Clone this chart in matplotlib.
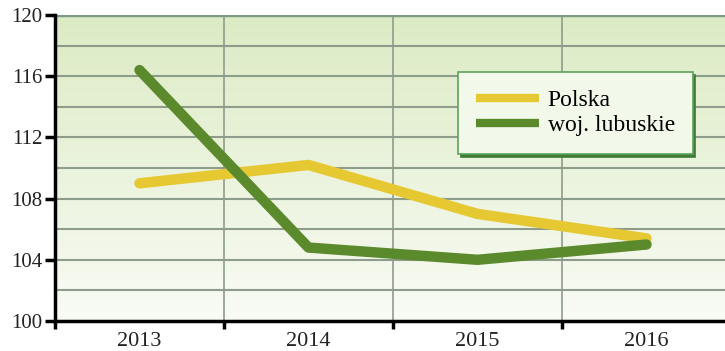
import matplotlib.pyplot as plt
import matplotlib.colors as mcolors
from matplotlib.lines import Line2D
import numpy as np

years = ["2013", "2014", "2015", "2016"]
polska = [109.0, 110.2, 107.0, 105.4]
lubuskie = [116.4, 104.8, 104.0, 105.0]

plt.rcParams['font.family'] = ['Liberation Serif', 'DejaVu Serif']

YELLOW = "#e6c832"
GREEN = "#5b8a2c"

fig = plt.figure(figsize=(7.25, 3.51), dpi=100)
# axes runs slightly past the right edge, like the original crop
ax = fig.add_axes([55 / 725, 30 / 351, 676 / 725, 306 / 351])

x = np.arange(len(years))
ax.set_xlim(-0.5, len(years) - 0.5)
ax.set_ylim(100, 120)

# background gradient, light green at top fading to white
cmap = mcolors.LinearSegmentedColormap.from_list("bg", ["#f9fbf5", "#dcebc4"])
grad = np.linspace(0, 1, 256).reshape(-1, 1)
ax.imshow(grad, cmap=cmap, origin="lower", aspect="auto",
          extent=(-0.5, len(years) - 0.5, 100, 120), zorder=0)

# grid
for yv in np.arange(102, 121, 2):
    ax.axhline(yv, color="#8e9c8c", lw=1.5, zorder=1)
for xv in np.arange(0.5, len(years) - 0.5, 1):
    ax.axvline(xv, color="#8e9c8c", lw=1.2, zorder=1)
ax.axhline(120, color="#7f9a84", lw=2.5, zorder=1)

ax.plot(x, polska, color=YELLOW, lw=7.5, solid_capstyle="round",
        solid_joinstyle="round", zorder=3)
ax.plot(x, lubuskie, color=GREEN, lw=7.5, solid_capstyle="round",
        solid_joinstyle="round", zorder=4)

ax.set_yticks(np.arange(100, 121, 4))
ax.set_xticks(x)
ax.set_xticklabels(years)
ax.set_xticks(np.arange(-0.5, len(years), 1), minor=True)
ax.tick_params(axis="x", which="major", length=0, labelsize=16, pad=8,
               labelcolor="#222222")
ax.tick_params(axis="x", which="minor", length=6, width=2.5, direction="out")
ax.tick_params(axis="y", length=7, width=2.5, labelsize=15, pad=2,
               labelcolor="#222222")

for s in ["top", "right"]:
    ax.spines[s].set_visible(False)
for s in ["left", "bottom"]:
    ax.spines[s].set_linewidth(2.5)
    ax.spines[s].set_zorder(5)

handles = [Line2D([], [], color=YELLOW, lw=6, solid_capstyle="butt"),
           Line2D([], [], color=GREEN, lw=6, solid_capstyle="butt")]
leg = ax.legend(handles, ["Polska", "woj. lubuskie"],
                loc="upper left", bbox_to_anchor=(0.596, 0.814), fontsize=17,
                frameon=True, fancybox=False, handlelength=2.7, handletextpad=0.35,
                borderpad=0.75, labelspacing=0.15, borderaxespad=0,
                shadow={"color": "#3f7a36", "alpha": 1.0})
leg.get_frame().set_facecolor("#f2f8ea")
leg.get_frame().set_edgecolor("#5aa45a")
leg.get_frame().set_linewidth(1.2)
leg.get_frame().set_alpha(1.0)
leg.set_zorder(6)

fig.savefig("out.png", dpi=100)
